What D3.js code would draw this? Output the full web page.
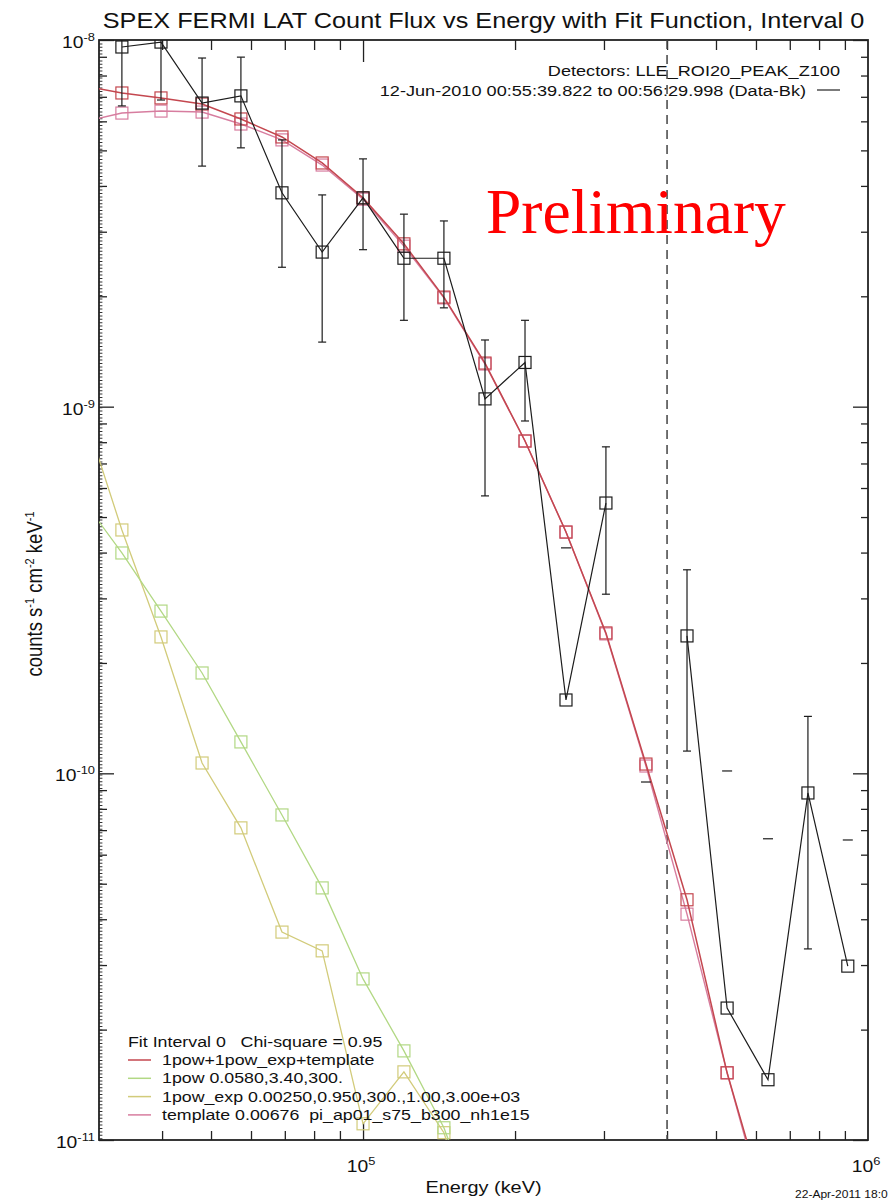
<!DOCTYPE html>
<html>
<head>
<meta charset="utf-8">
<script src="https://cdn.jsdelivr.net/npm/d3@7"></script>
<style>
  body { margin: 0; background: #fff; }
  svg { display: block; }
  text { font-family: "Liberation Sans", Arial, Helvetica, sans-serif; fill: #111; white-space: pre; }
</style>
</head>
<body>
<svg id="chart" width="891" height="1202"></svg>
<script>
// Energy bin centres (keV); the first bin sits just below the plotted range
const energy = [27700, 33300, 39800, 48000, 57300, 69100, 83000, 100000, 120500, 144600,
                174400, 209300, 252300, 302700, 363300, 438100, 526000, 633800, 760400, 912000];

// Background-subtracted count flux (counts s^-1 cm^-2 keV^-1); null = not positive
const dataFlux = [null, 9.57e-9, 9.87e-9, 6.73e-9, 7.04e-9, 3.83e-9, 2.64e-9, 3.71e-9, 2.54e-9, 2.54e-9,
                  1.05e-9, 1.32e-9, 1.585e-10, 5.46e-10, null, 2.37e-10, 2.29e-11, 1.46e-11, 8.84e-11, 2.98e-11];
// Upper and lower 1-sigma bounds; a null lower bound means only the upper limit is shown
const dataHigh = [null, 1.3e-8, 1.3e-8, 8.93e-9, 8.98e-9, 5.34e-9, 3.78e-9, 4.74e-9, 3.35e-9, 3.21e-9,
                  1.52e-9, 1.72e-9, 4.12e-10, 7.77e-10, 9.47e-11, 3.59e-10, 1.015e-10, 6.63e-11, 1.43e-10, 6.58e-11];
const dataLow  = [null, 6.61e-9, 6.86e-9, 4.53e-9, 5.08e-9, 2.40e-9, 1.50e-9, 2.68e-9, 1.72e-9, 1.86e-9,
                  5.71e-10, 9.14e-10, null, 3.08e-10, null, 1.15e-10, null, null, 3.32e-11, null];

// Fit components evaluated at the bin centres
const fitTotal    = [7.51e-9, 7.17e-9, 6.95e-9, 6.69e-9, 6.09e-9, 5.44e-9, 4.62e-9, 3.71e-9, 2.78e-9, 1.99e-9,
                     1.315e-9, 8.06e-10, 4.55e-10, 2.415e-10, 1.06e-10, 4.52e-11, 1.525e-11, 6.3e-12, null, null];
const fitTemplate = [5.97e-9, 6.32e-9, 6.40e-9, 6.36e-9, 5.90e-9, 5.34e-9, 4.56e-9, 3.68e-9, 2.74e-9, 1.98e-9,
                     1.307e-9, 8.06e-10, 4.55e-10, 2.40e-10, 1.047e-10, 4.13e-11, 1.525e-11, 6.0e-12, null, null];
const fitPow      = [5.64e-10, 3.99e-10, 2.77e-10, 1.878e-10, 1.218e-10, 7.70e-11, 4.87e-11, 2.75e-11, 1.75e-11, 1.08e-11,
                     5.4e-12, null, null, null, null, null, null, null, null, null];
const fitPowExp   = [1.01e-9, 4.61e-10, 2.355e-10, 1.067e-10, 7.10e-11, 3.69e-11, 3.28e-11, 1.107e-11, 1.534e-11, 1.047e-11,
                     4.8e-12, null, null, null, null, null, null, null, null, null];

const legendLines = [
  "1pow+1pow_exp+template",
  "1pow 0.0580,3.40,300.",
  "1pow_exp 0.00250,0.950,300.,1.00,3.00e+03",
  "template 0.00676  pi_ap01_s75_b300_nh1e15"
];
const xMajor = [1e5, 1e6];
const xMinor = [4e4, 5e4, 6e4, 7e4, 8e4, 9e4, 2e5, 3e5, 4e5, 5e5, 6e5, 7e5, 8e5, 9e5];
const yMajor = [1e-8, 1e-9, 1e-10, 1e-11];
const thresholdEnergy = 4e5;

// ---- layout ----
const X0 = 99, X1 = 868, Y0 = 40, Y1 = 1140;
const SX = 1.17; // horizontal stretch of the plot lettering
const colors = {
  data: "#1c1c1c",
  total: "#c4474f",
  template: "#d77d9f",
  pow: "#b2d884",
  powExp: "#d2cb7a",
  frame: "#222"
};

const svg = d3.select("#chart");
const x = d3.scaleLog().domain([3e4, 1e6]).range([X0, X1]);
const y = d3.scaleLog().domain([1e-11, 1e-8]).range([Y1, Y0]);

const yMinor = [];
[-11, -10, -9].forEach(p => { for (let k = 2; k <= 9; k++) yMinor.push(k * Math.pow(10, p)); });

function stretchedText(parent, tx, ty, str, size, anchor) {
  const t = parent.append("text")
    .attr("transform", `translate(${tx},${ty}) scale(${SX},1)`)
    .attr("text-anchor", anchor || "start")
    .attr("xml:space", "preserve")
    .style("font-size", size + "px");
  if (str != null) t.text(str);
  return t;
}
function powerLabel(parent, tx, ty, exp, anchor) {
  const t = stretchedText(parent, tx, ty, null, 16.5, anchor);
  t.append("tspan").text("10");
  t.append("tspan").attr("dy", -7).style("font-size", "11px").text(exp);
  return t;
}

svg.append("defs").append("clipPath").attr("id", "plotClip")
  .append("rect").attr("x", X0).attr("y", Y0).attr("width", X1 - X0).attr("height", Y1 - Y0);

// ---- axes (ticks point inwards on all four sides) ----
function tickGroup(axis, tf) {
  const g = svg.append("g").attr("transform", tf).call(axis);
  g.select(".domain").remove();
  g.selectAll("line").attr("stroke", colors.frame).attr("stroke-width", 1.3);
  g.selectAll("text").remove();
  return g;
}
tickGroup(d3.axisTop(x).tickValues(xMinor).tickSize(9), `translate(0,${Y1})`);
tickGroup(d3.axisTop(x).tickValues([1e5]).tickSize(17), `translate(0,${Y1})`);
tickGroup(d3.axisBottom(x).tickValues(xMinor).tickSize(10), `translate(0,${Y0})`);
tickGroup(d3.axisBottom(x).tickValues([1e5]).tickSize(22), `translate(0,${Y0})`);
tickGroup(d3.axisRight(y).tickValues(yMinor).tickSize(8), `translate(${X0},0)`);
tickGroup(d3.axisRight(y).tickValues(yMajor).tickSize(15), `translate(${X0},0)`);
tickGroup(d3.axisLeft(y).tickValues(yMinor).tickSize(7), `translate(${X1},0)`);
tickGroup(d3.axisLeft(y).tickValues(yMajor).tickSize(15), `translate(${X1},0)`);

// fine ruler marks along the left axis
svg.append("line")
  .attr("x1", X0 + 1.8).attr("x2", X0 + 1.8).attr("y1", Y0).attr("y2", Y1)
  .attr("stroke", "#333").attr("stroke-width", 3.2).attr("stroke-dasharray", "1 2.4");

// frame
svg.append("rect").attr("x", X0).attr("y", Y0).attr("width", X1 - X0).attr("height", Y1 - Y0)
  .attr("fill", "none").attr("stroke", colors.frame).attr("stroke-width", 1.8);

// tick labels
const labels = svg.append("g");
xMajor.forEach(v => powerLabel(labels, x(v) - 2, 1172, Math.round(Math.log10(v)), "middle"));
yMajor.forEach(v => powerLabel(labels, 95, y(v) + 8, Math.round(Math.log10(v)), "end"));

// axis titles
stretchedText(svg, (X0 + X1) / 2, 1193, "Energy (keV)", 17, "middle");
const yt = svg.append("text")
  .attr("transform", `translate(42,${(Y0 + Y1) / 2 + 4}) rotate(-90) scale(1,${SX})`)
  .attr("text-anchor", "middle").style("font-size", "18.5px");
yt.append("tspan").text("counts s");
yt.append("tspan").attr("dy", -7).style("font-size", "11px").text("-1");
yt.append("tspan").attr("dy", 7).text(" cm");
yt.append("tspan").attr("dy", -7).style("font-size", "11px").text("-2");
yt.append("tspan").attr("dy", 7).text(" keV");
yt.append("tspan").attr("dy", -7).style("font-size", "11px").text("-1");

// title and header
stretchedText(svg, (X0 + X1) / 2, 28, "SPEX FERMI LAT Count Flux vs Energy with Fit Function, Interval 0", 21.6, "middle");
stretchedText(svg, 840, 76, "Detectors: LLE_ROI20_PEAK_Z100", 15.5, "end");
stretchedText(svg, 806, 96, "12-Jun-2010 00:55:39.822 to 00:56:29.998 (Data-Bk)", 15.5, "end");
svg.append("line").attr("x1", 817).attr("x2", 840).attr("y1", 90).attr("y2", 90)
  .attr("stroke", "#222").attr("stroke-width", 1.2);

// ---- plot contents ----
const plot = svg.append("g").attr("clip-path", "url(#plotClip)");

// fit-threshold marker
plot.append("line")
  .attr("x1", x(thresholdEnergy)).attr("x2", x(thresholdEnergy)).attr("y1", Y0).attr("y2", Y1)
  .attr("stroke", "#444").attr("stroke-width", 1.5).attr("stroke-dasharray", "9 6");

function series(values, color, width) {
  const pts = energy.map((e, i) => ({ e, v: values[i] }));
  const line = d3.line().defined(d => d.v != null).x(d => x(d.e)).y(d => y(d.v));
  plot.append("path").datum(pts).attr("d", line)
    .attr("fill", "none").attr("stroke", color).attr("stroke-width", width);
  plot.append("g").selectAll("rect").data(pts.filter(d => d.v != null)).join("rect")
    .attr("x", d => x(d.e) - 6).attr("y", d => y(d.v) - 6)
    .attr("width", 12).attr("height", 12)
    .attr("fill", "none").attr("stroke", color).attr("stroke-width", 1.2);
}

series(fitPowExp, colors.powExp, 1.3);
series(fitPow, colors.pow, 1.3);
series(fitTemplate, colors.template, 1.4);
series(fitTotal, colors.total, 1.5);

// data error bars
const errs = energy.map((e, i) => ({ e, hi: dataHigh[i], lo: dataLow[i] })).filter(d => d.hi != null);
const eb = plot.append("g").attr("stroke", colors.data).attr("stroke-width", 1.2);
errs.filter(d => d.lo != null).forEach(d => {
  eb.append("line").attr("x1", x(d.e)).attr("x2", x(d.e)).attr("y1", y(d.hi)).attr("y2", y(d.lo));
  eb.append("line").attr("x1", x(d.e) - 4).attr("x2", x(d.e) + 4).attr("y1", y(d.hi)).attr("y2", y(d.hi));
  eb.append("line").attr("x1", x(d.e) - 4).attr("x2", x(d.e) + 4).attr("y1", y(d.lo)).attr("y2", y(d.lo));
});
errs.filter(d => d.lo == null).forEach(d => {
  eb.append("line").attr("x1", x(d.e) - 5).attr("x2", x(d.e) + 5).attr("y1", y(d.hi)).attr("y2", y(d.hi));
});
series(dataFlux, colors.data, 1.2);

// ---- legend ----
const lg = svg.append("g");
stretchedText(lg, 128, 1047, "Fit Interval 0   Chi-square = 0.95", 15.2, "start");
const legendColors = [colors.total, colors.pow, colors.powExp, colors.template];
legendLines.forEach((s, i) => {
  const yy = 1065 + i * 18.3;
  lg.append("line").attr("x1", 128).attr("x2", 151).attr("y1", yy - 5).attr("y2", yy - 5)
    .attr("stroke", legendColors[i]).attr("stroke-width", 1.5);
  stretchedText(lg, 162, yy, s, 15.2, "start");
});

// watermark
svg.append("text").attr("x", 486).attr("y", 233)
  .style("font-family", '"Liberation Serif", "Times New Roman", serif')
  .style("font-size", "63.5px").style("fill", "#ff0000").style("white-space", "normal").text("Preliminary");

// plot date
stretchedText(svg, 795, 1198, "22-Apr-2011 18:0", 10.3, "start");
</script>
</body>
</html>
